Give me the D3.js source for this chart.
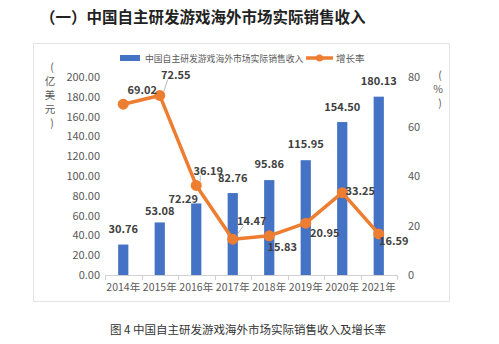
<!DOCTYPE html>
<html><head><meta charset="utf-8">
<script src="https://cdn.jsdelivr.net/npm/d3@7"></script>
<style>
body{margin:0;background:#fff;}
svg{display:block;font-family:"Noto Sans CJK SC","Noto Sans",sans-serif;}
</style></head>
<body>
<script>
const categories = ["2014年","2015年","2016年","2017年","2018年","2019年","2020年","2021年"];
const revenue = [30.76, 53.08, 72.29, 82.76, 95.86, 115.95, 154.50, 180.13];
const growth = [69.02, 72.55, 36.19, 14.47, 15.83, 20.95, 33.25, 16.59];
const leftTicks = [0,20,40,60,80,100,120,140,160,180,200];
const rightTicks = [0,20,40,60,80];
// label placement offsets (px) relative to mark
const barLabelOffset = [[0,-12],[0,-7],[-13,0],[0,-11],[0,-12],[0,-12],[0,-11],[0,-12]];
const lineLabelOffset = [[19,-14],[16,-20],[12,-14],[19,-18],[13,11],[19,10],[18,-2],[15,7]];

const W=499,H=344;
const svg=d3.select("body").append("svg").attr("width",W).attr("height",H);
svg.append("rect").attr("width",W).attr("height",H).attr("fill","#fff");

svg.append("text").attr("x",40).attr("y",23).attr("font-size",15.5).attr("font-weight","bold")
  .attr("fill","#222").text("（一）中国自主研发游戏海外市场实际销售收入");

svg.append("rect").attr("x",33.5).attr("y",43.5).attr("width",416).attr("height",258)
  .attr("fill","none").attr("stroke","#e3e3e3");

const x=d3.scaleBand().domain(categories).range([105,397]).paddingInner(0.72).paddingOuter(0.36);
const yL=d3.scaleLinear().domain([0,200]).range([275,77]);
const yR=d3.scaleLinear().domain([0,80]).range([275,77]);

// left axis
const gl=svg.append("g").attr("transform","translate(104,0)")
  .call(d3.axisLeft(yL).tickValues(leftTicks).tickFormat(d3.format(".2f")).tickSize(0).tickPadding(4));
gl.select(".domain").remove();
gl.selectAll("text").attr("font-size",11).attr("fill","#595959").attr("font-family","Noto Sans CJK SC");

const gr=svg.append("g").attr("transform","translate(398,0)")
  .call(d3.axisRight(yR).tickValues(rightTicks).tickSize(0).tickPadding(10));
gr.select(".domain").remove();
gr.selectAll("text").attr("font-size",11).attr("fill","#595959").attr("font-family","Noto Sans CJK SC");

// bottom axis
const band=(397-105)/categories.length;
svg.append("line").attr("x1",105).attr("x2",397).attr("y1",275.5).attr("y2",275.5).attr("stroke","#d0d0d0");
d3.range(categories.length+1).forEach(i=>{
  const xx=Math.round(105+i*band)+0.5;
  svg.append("line").attr("x1",xx).attr("x2",xx).attr("y1",275).attr("y2",280).attr("stroke","#d0d0d0");
});
svg.append("g").selectAll("text").data(categories).join("text")
  .attr("x",d=>x(d)+x.bandwidth()/2).attr("y",291).attr("text-anchor","middle")
  .attr("font-size",10.5).attr("fill","#595959").text(d=>d);

// unit labels
const unitL=["(","亿","美","元",")"];
svg.append("g").selectAll("text").data(unitL).join("text")
  .attr("x",(d,i)=>i==0||i==4?52:50).attr("y",(d,i)=>71+i*14).attr("text-anchor","middle").attr("font-size",10.5)
  .attr("fill","#595959").text(d=>d);
const unitR=["(","%",")"];
svg.append("g").selectAll("text").data(unitR).join("text")
  .attr("x",(d,i)=>i==1?438:440).attr("y",(d,i)=>79+i*14).attr("text-anchor","middle").attr("font-size",10.5)
  .attr("fill","#595959").text(d=>d);

// bars
svg.append("g").selectAll("rect").data(revenue).join("rect")
  .attr("x",(d,i)=>x(categories[i])).attr("width",x.bandwidth())
  .attr("y",d=>yL(d)).attr("height",d=>yL(0)-yL(d)).attr("fill","#4472C4");

// line
const cx=i=>x(categories[i])+x.bandwidth()/2;
svg.append("path").datum(growth).attr("fill","none").attr("stroke","#ED7D31").attr("stroke-width",3.5)
  .attr("stroke-linejoin","round")
  .attr("d",d3.line().x((d,i)=>cx(i)).y(d=>yR(d)));

// leader lines
[[1],[2],[3]].forEach(([i])=>{
  const px=cx(i), py=yR(growth[i]);
  svg.append("line").attr("x1",px+4).attr("y1",py-4).attr("x2",px+lineLabelOffset[i][0]-8).attr("y2",py+lineLabelOffset[i][1]+4)
    .attr("stroke","#a6a6a6").attr("stroke-width",0.8);
});

svg.append("g").selectAll("circle").data(growth).join("circle")
  .attr("cx",(d,i)=>cx(i)).attr("cy",d=>yR(d)).attr("r",5.5).attr("fill","#ED7D31");

// data labels
svg.append("g").selectAll("text").data(revenue).join("text")
  .attr("x",(d,i)=>cx(i)+barLabelOffset[i][0]).attr("y",(d,i)=>yL(d)+barLabelOffset[i][1])
  .attr("text-anchor","middle").attr("font-size",11).attr("font-weight","bold").attr("fill","#404040")
  .text(d=>d3.format(".2f")(d));
svg.append("g").selectAll("text").data(growth).join("text")
  .attr("x",(d,i)=>cx(i)+lineLabelOffset[i][0]).attr("y",(d,i)=>yR(d)+lineLabelOffset[i][1]+4)
  .attr("text-anchor","middle").attr("font-size",11).attr("font-weight","bold").attr("fill","#404040")
  .text(d=>d3.format(".2f")(d));

// legend
svg.append("rect").attr("x",120).attr("y",55).attr("width",20).attr("height",6).attr("fill","#4472C4");
svg.append("text").attr("x",145).attr("y",61.5).attr("font-size",8.8).attr("fill","#595959").text("中国自主研发游戏海外市场实际销售收入");
svg.append("line").attr("x1",306).attr("x2",333).attr("y1",58).attr("y2",58).attr("stroke","#ED7D31").attr("stroke-width",3.5);
svg.append("circle").attr("cx",319.5).attr("cy",58).attr("r",3.5).attr("fill","#ED7D31");
svg.append("text").attr("x",336).attr("y",61.5).attr("font-size",9.5).attr("fill","#595959").text("增长率");

// caption
svg.append("text").attr("x",110).attr("y",334).attr("font-size",11.5).attr("fill","#333")
  .text("图 4 中国自主研发游戏海外市场实际销售收入及增长率");
</script>
</body></html>
